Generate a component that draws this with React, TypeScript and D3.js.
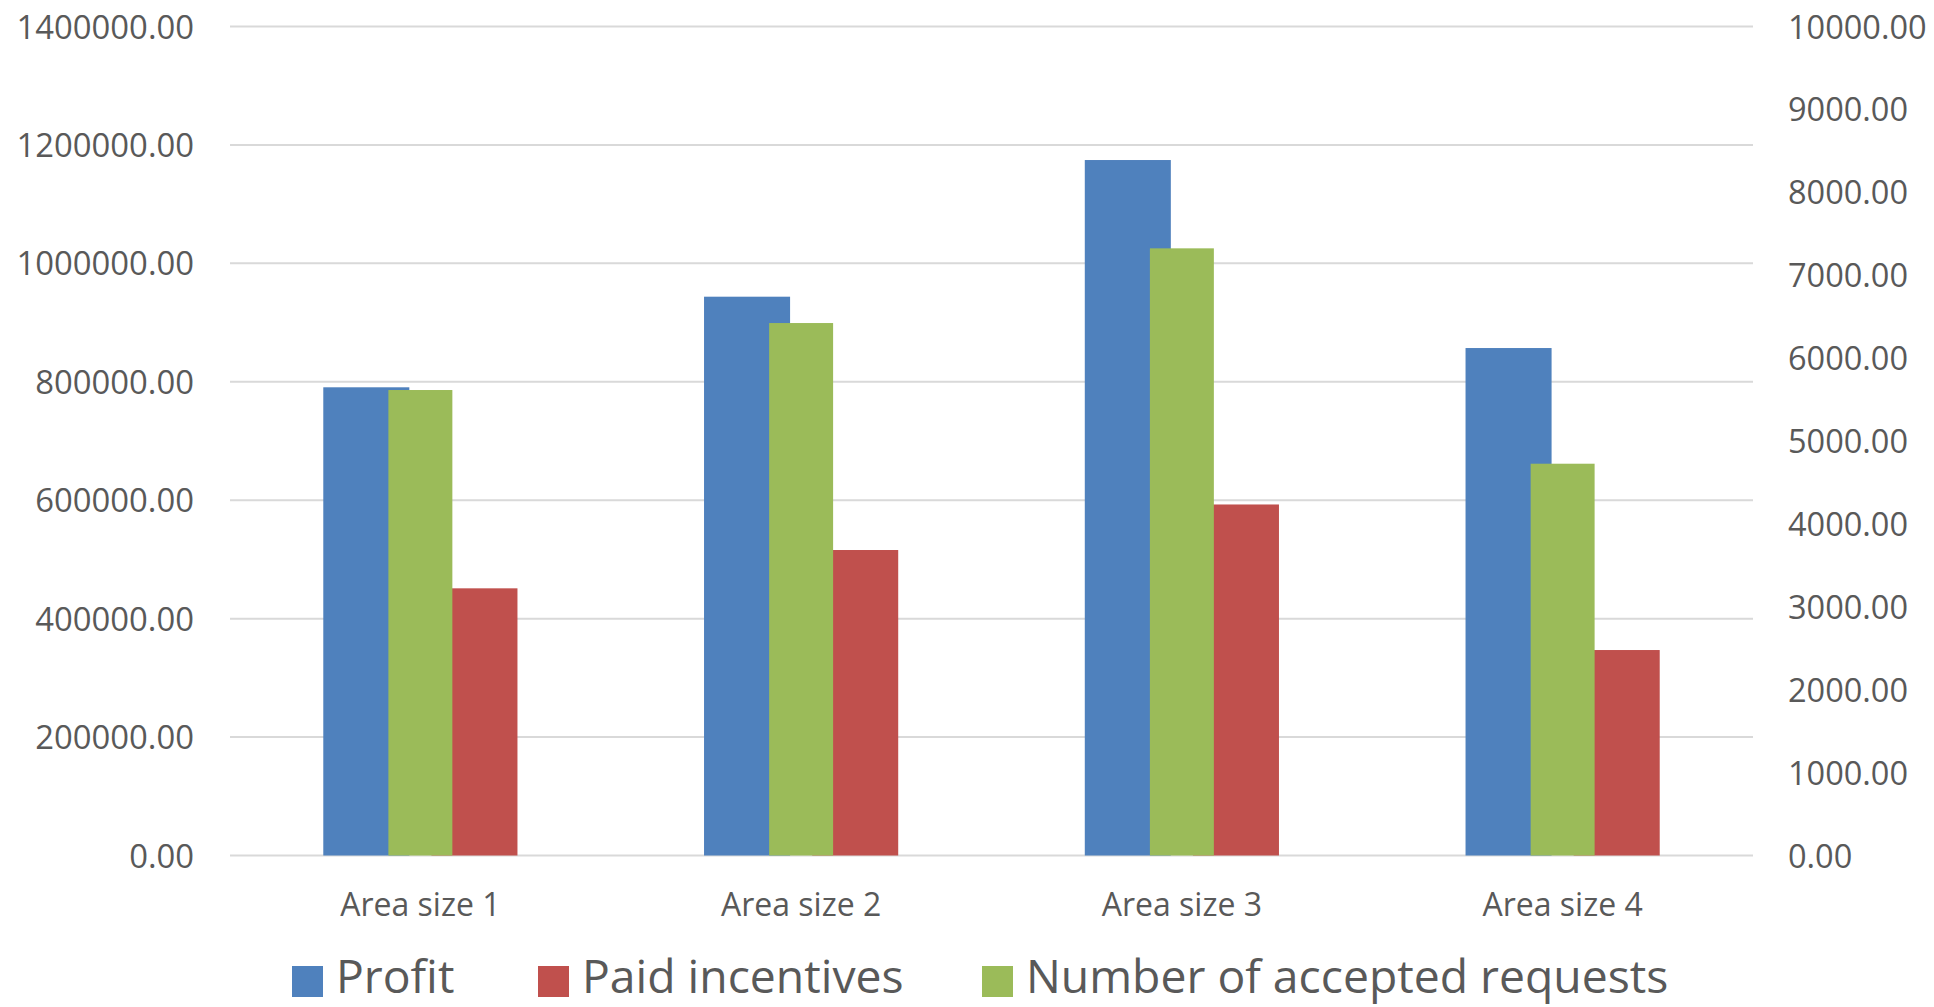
import React from "react";
import * as d3 from "d3";

const categories = ["Area size 1", "Area size 2", "Area size 3", "Area size 4"];
const profit = [790700, 943700, 1174500, 857000];
const paidIncentives = [451200, 515900, 592800, 347000];
const acceptedRequests = [5615, 6423, 7324, 4726];
const leftTicks = [0, 200000, 400000, 600000, 800000, 1000000, 1200000, 1400000];
const rightTicks = [0, 1000, 2000, 3000, 4000, 5000, 6000, 7000, 8000, 9000, 10000];
const legendItems = [
  { label: "Profit", color: "#4f81bd" },
  { label: "Paid incentives", color: "#c0504d" },
  { label: "Number of accepted requests", color: "#9bbb59" },
];

const W = 1934;
const H = 1007;
const FONT = "'Open Sans', 'Noto Sans', sans-serif";
const TEXT = "#595959";

export default function App() {
  const plotLeft = 230;
  const plotRight = 1753;
  const plotTop = 26.5;
  const plotBottom = 855.5;

  const x = d3.scaleBand<string>().domain(categories).range([plotLeft, plotRight]).padding(0);
  const yL = d3.scaleLinear().domain([0, 1400000]).range([plotBottom, plotTop]);
  const yR = d3.scaleLinear().domain([0, 10000]).range([plotBottom, plotTop]);

  const bw = x.bandwidth();
  const primaryW = bw * 0.226;
  const primaryGap = bw * 0.058;
  const secondaryW = bw * 0.168;

  const legendPos = [292, 538, 982];

  return (
    <div style={{ position: "absolute", left: 0, top: 0 }}>
      <svg width={W} height={H} style={{ display: "block", background: "#fff" }}>
        {leftTicks.map((t) => (
          <line key={"g" + t} x1={plotLeft} x2={plotRight} y1={yL(t)} y2={yL(t)} stroke="#d9d9d9" strokeWidth={2} />
        ))}
        {leftTicks.map((t) => (
          <text key={"l" + t} x={194} y={yL(t) + 12} textAnchor="end" fontFamily={FONT} fontSize={32.8} fill={TEXT}>
            {t.toFixed(2)}
          </text>
        ))}
        {rightTicks.map((t) => (
          <text key={"r" + t} x={1788} y={yR(t) + 12} textAnchor="start" fontFamily={FONT} fontSize={32.5} fill={TEXT}>
            {t.toFixed(2)}
          </text>
        ))}
        {categories.map((c, i) => {
          const cx = (x(c) as number) + bw / 2;
          return (
            <g key={c}>
              <rect x={cx - primaryGap / 2 - primaryW} y={yL(profit[i])} width={primaryW} height={plotBottom - yL(profit[i])} fill="#4f81bd" />
              <rect x={cx + primaryGap / 2} y={yL(paidIncentives[i])} width={primaryW} height={plotBottom - yL(paidIncentives[i])} fill="#c0504d" />
              <rect x={cx - secondaryW / 2} y={yR(acceptedRequests[i])} width={secondaryW} height={plotBottom - yR(acceptedRequests[i])} fill="#9bbb59" />
              <text x={cx} y={916} textAnchor="middle" fontFamily={FONT} fontSize={32} fill={TEXT}>
                {c}
              </text>
            </g>
          );
        })}
        {legendItems.map((it, i) => (
          <g key={it.label}>
            <rect x={legendPos[i]} y={966} width={31} height={31} fill={it.color} />
            <text x={legendPos[i] + 44} y={993} fontFamily={FONT} fontSize={46.3} fill={TEXT}>
              {it.label}
            </text>
          </g>
        ))}
      </svg>
    </div>
  );
}
